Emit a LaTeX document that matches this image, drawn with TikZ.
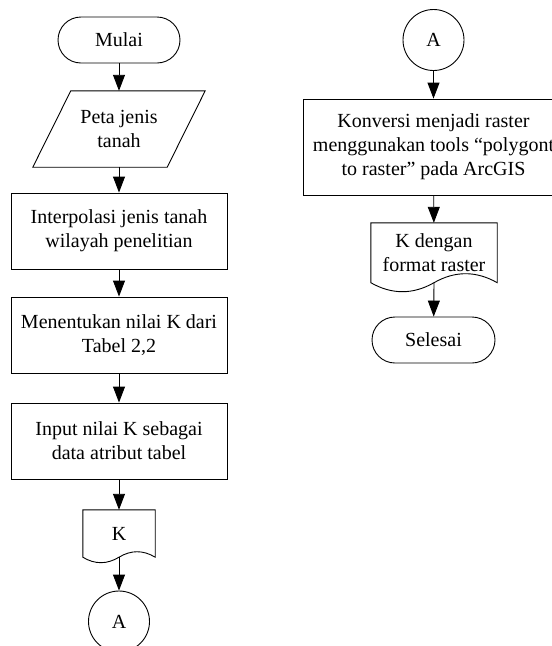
\documentclass[tikz,border=0pt]{standalone}
\usepackage{fontspec}
\setmainfont{Liberation Serif}
\usetikzlibrary{arrows.meta}

\begin{document}
\begin{tikzpicture}[x=1pt, y=-1pt,
  every node/.style={font=\fontsize{20}{24}\selectfont, align=center, inner sep=0pt},
  line/.style={line width=0.9pt},
  flow/.style={line, -{Triangle[length=16pt, width=12pt]}},
  procbox/.style={draw, line, rectangle, minimum width=216pt, minimum height=76pt},
  terminal/.style={draw, line, rectangle, rounded corners=23pt, minimum width=122pt, minimum height=46pt},
  connector/.style={draw, line, circle, minimum size=61pt},
  shapeholder/.style={rectangle, draw=none}
]
\useasboundingbox (0,0) rectangle (552,646);
\clip (0,0) rectangle (552,646);
\fill[white] (0,0) rectangle (552,646);

% ---- left column ----
\node[terminal] (mulai) at (119,40) {Mulai};

\node[shapeholder, minimum width=172pt, minimum height=76pt] (peta) at (119,129) {Peta jenis\\tanah};
\draw[line] ([xshift=38pt]peta.north west) -- (peta.north east)
  -- ([xshift=-38pt]peta.south east) -- (peta.south west) -- cycle;

\node[procbox] (interp) at (119,231) {Interpolasi jenis tanah\\wilayah penelitian};
\node[procbox] (nilai) at (119,335) {Menentukan nilai K dari\\Tabel 2,2};
\node[procbox] (input) at (119,441) {Input nilai K sebagai\\data atribut tabel};

\node[shapeholder, minimum width=72pt, minimum height=47pt] (kdoc) at (119,533.5) {K};
\draw[line] (kdoc.north west) -- (kdoc.north east) -- (kdoc.south east)
  .. controls +(-12,-7.3) and +(12,-7.3) .. (kdoc.south)
  .. controls +(-12,7.3) and +(12,7.3) .. (kdoc.south west) -- cycle;

\node[connector] (aout) at (119,621.5) {A};

\draw[flow] (mulai) -- (peta);
\draw[flow] (peta) -- (interp);
\draw[flow] (interp) -- (nilai);
\draw[flow] (nilai) -- (input);
\draw[flow] (input) -- (kdoc);
\draw[flow] (kdoc.south) -- (aout);

% ---- right column ----
\node[connector] (ain) at (433.5,40) {A};

\node[procbox, minimum width=261pt, minimum height=96pt] (konv) at (433.5,147)
  {Konversi menjadi raster\\menggunakan tools “polygont\\to raster” pada ArcGIS};

\node[shapeholder, minimum width=126pt, minimum height=59.5pt] (rdoc) at (434,252.75) {K dengan\\format raster};
\draw[line] (rdoc.north west) -- (rdoc.north east) -- (rdoc.south east)
  .. controls +(-21,-12) and +(21,-12) .. (rdoc.south)
  .. controls +(-21,12) and +(21,12) .. (rdoc.south west) -- cycle;

\node[terminal, minimum width=123pt] (selesai) at (433.5,340) {Selesai};

\draw[flow] (ain) -- (konv);
\draw[flow] (konv) -- (rdoc);
\draw[flow] (rdoc.south) -- (selesai);
\end{tikzpicture}
\end{document}
